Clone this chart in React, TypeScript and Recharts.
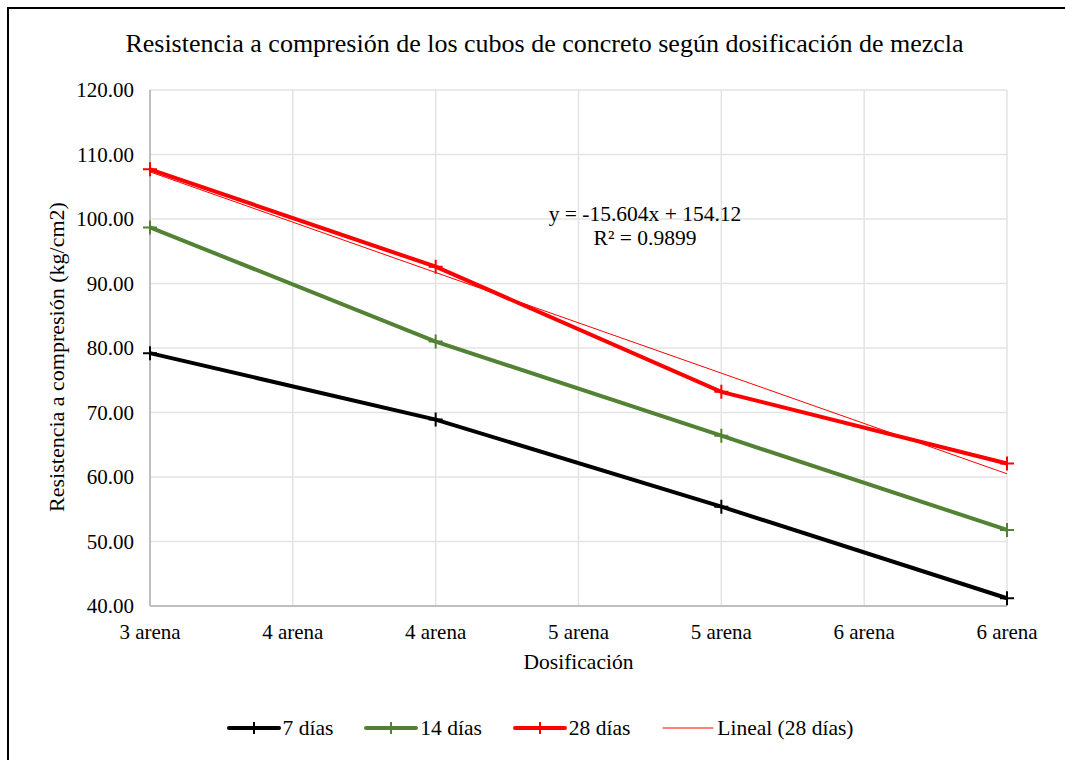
import { LineChart, Line, XAxis, YAxis, CartesianGrid } from "recharts"

// Dosificación (arena) en el eje X y resistencias en kg/cm2
const dosificacion = [3, 4, 5, 6]
const dias7 = [79.2, 68.9, 55.4, 41.2]
const dias14 = [98.7, 81.0, 66.4, 51.8]
const dias28 = [107.7, 92.6, 73.2, 62.1]

const xTicks = [3, 3.5, 4, 4.5, 5, 5.5, 6]
const yTicks = [40, 50, 60, 70, 80, 90, 100, 110, 120]

// línea de tendencia lineal mostrada en el gráfico
const trendSlope = -15.604
const trendIntercept = 154.12
const trendR2 = 0.9899

const data = dosificacion.map((x, i) => ({
  x,
  d7: dias7[i],
  d14: dias14[i],
  d28: dias28[i],
  lineal: trendIntercept + trendSlope * x,
}))

const FONT = '"Liberation Serif", "Times New Roman", serif'
const GREEN = "#548235"
const RED = "#ff0000"

const series = [
  { key: "d7", name: "7 días", color: "#000000", width: 4, marker: true },
  { key: "d14", name: "14 días", color: GREEN, width: 4, marker: true },
  { key: "d28", name: "28 días", color: RED, width: 4, marker: true },
  { key: "lineal", name: "Lineal (28 días)", color: RED, width: 1, marker: false },
]

function plusDot(color: string) {
  return (p: any) => (
    <path
      key={`dot-${p.index}`}
      d={`M${p.cx - 7},${p.cy}H${p.cx + 7}M${p.cx},${p.cy - 7}V${p.cy + 7}`}
      stroke={color}
      strokeWidth={2}
      fill="none"
    />
  )
}

function fmtX(v: number) {
  return `${Math.round(v)} arena`
}

function LegendBox() {
  return (
    <div
      style={{
        position: "absolute",
        left: 0,
        width: 1080,
        top: 714,
        display: "flex",
        justifyContent: "center",
        alignItems: "center",
        fontSize: 21.5,
        lineHeight: "28px",
        gap: 31,
      }}
    >
      {series.map((s) => (
        <div key={s.key} style={{ display: "flex", alignItems: "center" }}>
          <svg width={54} height={14} style={{ marginRight: 2 }}>
            <line x1={2} y1={7} x2={52} y2={7} stroke={s.color} strokeWidth={s.width} strokeLinecap="round" />
            {s.marker && <line x1={27} y1={1} x2={27} y2={13} stroke={s.color} strokeWidth={2} />}
          </svg>
          <span>{s.name}</span>
        </div>
      ))}
    </div>
  )
}

export default function App() {
  return (
    <div style={{ position: "absolute", left: 0, top: 0, width: 1065, height: 760, overflow: "hidden", background: "#fff", fontFamily: FONT, color: "#000" }}>
      <div style={{ position: "absolute", left: 7, top: 7, width: 1100, height: 800, border: "2px solid #000", boxSizing: "border-box" }} />
      <div style={{ position: "absolute", left: 0, width: 1089, top: 28, textAlign: "center", fontSize: 26, lineHeight: "32px" }}>
        Resistencia a compresión de los cubos de concreto según dosificación de mezcla
      </div>
      <LineChart width={1065} height={760} data={data} margin={{ top: 90, right: 58, bottom: 124, left: 0 }} style={{ position: "absolute", left: 0, top: 0 }}>
        <CartesianGrid stroke="#e3e3e3" strokeWidth={1.5} />
        <XAxis
          dataKey="x"
          type="number"
          domain={[3, 6]}
          ticks={xTicks}
          tickFormatter={fmtX}
          height={30}
          tickLine={false}
          axisLine={{ stroke: "#bfbfbf", strokeWidth: 2 }}
          tickMargin={12}
          tick={{ fill: "#000", fontSize: 21, fontFamily: FONT }}
        />
        <YAxis
          type="number"
          domain={[40, 120]}
          ticks={yTicks}
          width={150}
          tickFormatter={(v: number) => v.toFixed(2)}
          tickLine={false}
          axisLine={{ stroke: "#bfbfbf", strokeWidth: 2 }}
          tickMargin={10}
          tick={{ fill: "#000", fontSize: 21, fontFamily: FONT }}
        />
        {series.map((s) => (
          <Line
            key={s.key}
            dataKey={s.key}
            name={s.name}
            stroke={s.color}
            strokeWidth={s.width}
            dot={s.marker ? plusDot(s.color) : false}
            activeDot={false}
            isAnimationActive={false}
          />
        ))}
      </LineChart>
      <div style={{ position: "absolute", left: 535, width: 220, top: 202, textAlign: "center", fontSize: 21.5, lineHeight: "24px" }}>
        <div>y = {trendSlope}x + {trendIntercept}</div>
        <div>R² = {trendR2}</div>
      </div>
      <div style={{ position: "absolute", left: 0, width: 1157, top: 648, textAlign: "center", fontSize: 21.5, lineHeight: "28px" }}>Dosificación</div>
      <div
        style={{
          position: "absolute",
          left: 57,
          top: 357,
          transform: "translate(-50%, -50%) rotate(-90deg)",
          whiteSpace: "nowrap",
          fontSize: 22,
          lineHeight: "26px",
        }}
      >
        Resistencia a compresión (kg/cm2)
      </div>
      <LegendBox />
    </div>
  )
}
